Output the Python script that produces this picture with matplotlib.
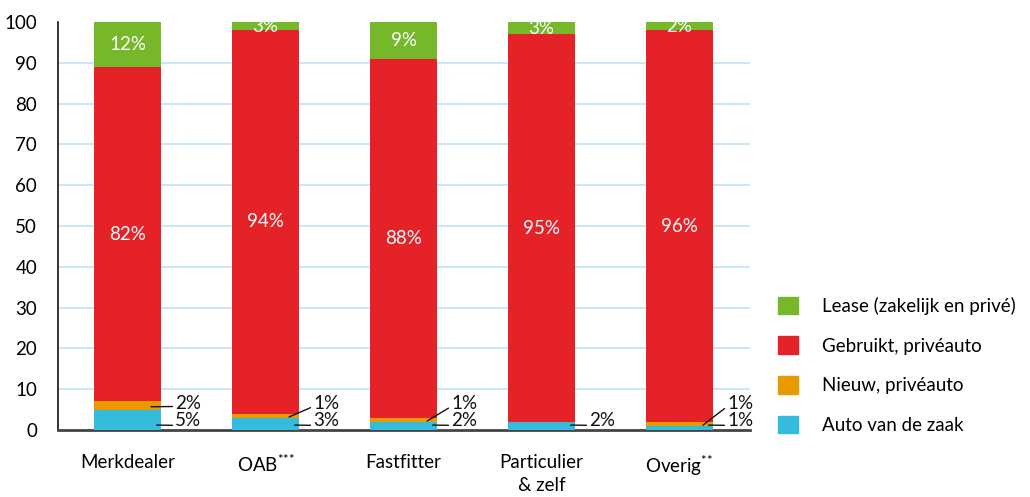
import matplotlib
matplotlib.use("Agg")
import matplotlib.pyplot as plt
from matplotlib.patches import Patch

categories = ["Merkdealer", "OAB$^{{*}{*}{*}}$", "Fastfitter", "Particulier\n& zelf", "Overig$^{{*}{*}}$"]
auto_zaak = [5, 3, 2, 2, 1]
nieuw = [2, 1, 1, 0, 1]
gebruikt = [82, 94, 88, 95, 96]
lease = [12, 3, 9, 3, 2]
series_names = ["Auto van de zaak", "Nieuw, privéauto", "Gebruikt, privéauto", "Lease (zakelijk en privé)"]
yticks = list(range(0, 101, 10))

colors = {"blue": "#35bcdc", "orange": "#e89a00", "red": "#e52228", "green": "#76b82a"}

plt.rcParams['font.family'] = ['Lato', 'DejaVu Sans']
plt.rcParams['mathtext.fontset'] = 'custom'
plt.rcParams['mathtext.rm'] = 'Lato'
plt.rcParams['mathtext.it'] = 'Lato'

fig = plt.figure(figsize=(10.30, 4.97), dpi=100)
ax = fig.add_axes([0.0563, 0.1348, 0.6718, 0.8209])

x = list(range(len(categories)))
w = 0.485
b1 = auto_zaak
b2 = [a + n for a, n in zip(auto_zaak, nieuw)]
b3 = [a + n + g for a, n, g in zip(auto_zaak, nieuw, gebruikt)]

ax.bar(x, auto_zaak, w, color=colors["blue"], zorder=3)
ax.bar(x, nieuw, w, bottom=b1, color=colors["orange"], zorder=3)
ax.bar(x, gebruikt, w, bottom=b2, color=colors["red"], zorder=3)
ax.bar(x, lease, w, bottom=b3, color=colors["green"], zorder=3)

ax.set_xlim(-0.505, 4.51)
ax.set_ylim(0, 100)
ax.hlines(yticks[1:-1], -0.505, 4.51, color="#bfe4f6", lw=1.2, zorder=1)

fs = 13.5
for i in x:
    top = min(b3[i] + lease[i], 100)
    ax.text(i, (b3[i] + top) / 2, f"{lease[i]}%", ha="center", va="center", color="white", fontsize=fs, zorder=4)
    ax.text(i, (b2[i] + b3[i]) / 2, f"{gebruikt[i]}%", ha="center", va="center", color="white", fontsize=fs, zorder=4)
    ax.annotate(f"{auto_zaak[i]}%", xy=(i + 0.21, 1.2), xytext=(i + 0.345, 2.4),
                ha="left", va="center", fontsize=fs, color="#111111",
                arrowprops=dict(arrowstyle="-", color="#111111", lw=1, relpos=(0, 0.2),
                                shrinkA=0, shrinkB=0), zorder=5)
    if nieuw[i] > 0:
        ax.annotate(f"{nieuw[i]}%", xy=(i + 0.17, b1[i] + nieuw[i] / 2 - 0.3), xytext=(i + 0.345, 6.6),
                    ha="left", va="center", fontsize=fs, color="#111111",
                    arrowprops=dict(arrowstyle="-", color="#111111", lw=1, relpos=(0, 0.3),
                                    shrinkA=0, shrinkB=0), zorder=5)

ax.set_xticks(x)
ax.set_xticklabels(categories, fontsize=fs, va="top", linespacing=1.45)
ax.set_yticks(yticks)
ax.set_yticklabels([str(t) for t in yticks], fontsize=fs)
ax.tick_params(axis="both", length=0)
ax.tick_params(axis="y", pad=15)
ax.tick_params(axis="x", pad=17)

for s in ["top", "right"]:
    ax.spines[s].set_visible(False)
ax.spines["left"].set_color("#111111")
ax.spines["left"].set_linewidth(1.2)
ax.spines["bottom"].set_color("#444444")
ax.spines["bottom"].set_linewidth(2)

handles = [Patch(color=colors["green"]), Patch(color=colors["red"]),
           Patch(color=colors["orange"]), Patch(color=colors["blue"])]
labels = [series_names[3], series_names[2], series_names[1], series_names[0]]
fig.legend(handles, labels, loc="center left", bbox_to_anchor=(0.739, 0.265),
           frameon=False, fontsize=fs, handlelength=1.07, handleheight=1.07,
           handletextpad=1.25, labelspacing=1.15)

fig.savefig("out.png", dpi=100)
